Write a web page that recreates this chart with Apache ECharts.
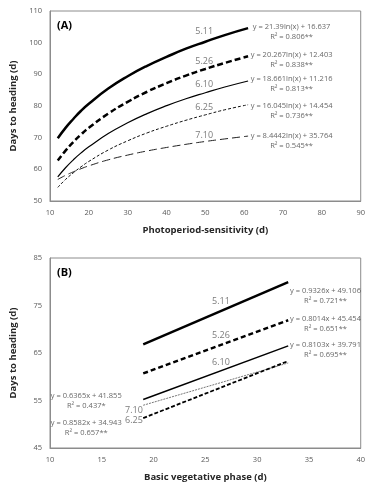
<!DOCTYPE html>
<html lang="en" style="height: 100%">
<head>
  <meta charset="utf-8">
  <title>Days to heading</title>
</head>
<body style="height: 100%; margin: 0;">
  <div id="container" style="width: 368px; height: 483px;"></div>
  <script type="text/javascript" src="https://cdn.jsdelivr.net/npm/echarts@6/dist/echarts.min.js"></script>
  <script type="text/javascript">
    // panel A: fitted log curves
    var photoX = [12, 14, 16, 18, 20, 25, 30, 35, 40, 45, 50, 55, 61];
    var a511 = [69.8, 73.1, 75.9, 78.5, 80.7, 85.5, 89.4, 92.7, 95.5, 98.1, 100.3, 102.4, 104.6];
    var a526 = [62.8, 65.9, 68.6, 71.0, 73.1, 77.6, 81.3, 84.5, 87.2, 89.6, 91.7, 93.6, 95.7];
    var a610 = [57.6, 60.5, 63.0, 65.2, 67.1, 71.3, 74.7, 77.6, 80.1, 82.3, 84.2, 86.0, 87.9];
    var a625 = [54.3, 56.8, 58.9, 60.8, 62.5, 66.1, 69.0, 71.5, 73.6, 75.5, 77.2, 78.8, 80.4];
    var a710 = [56.8, 58.1, 59.2, 60.2, 61.1, 63.0, 64.5, 65.8, 66.9, 67.9, 68.8, 69.6, 70.5];

    // panel B: straight fits, endpoints
    var bvpX = [19, 33];
    var b511 = [66.8, 79.9];
    var b526 = [60.7, 71.9];
    var b610 = [55.2, 66.5];
    var b710 = [54.0, 62.9];
    var b625 = [51.3, 63.3];

    var cultivars = ['5.11', '5.26', '6.10', '6.25', '7.10'];
    var eqA = [
      'y = 21.39ln(x) + 16.637\nR² = 0.806**',
      'y = 20.267ln(x) + 12.403\nR² = 0.838**',
      'y = 18.661ln(x) + 11.216\nR² = 0.813**',
      'y = 16.045ln(x) + 14.454\nR² = 0.736**',
      'y = 8.4442ln(x) + 35.764\nR² = 0.545**'
    ];
    var eqB = [
      'y = 0.9326x + 49.106\nR² = 0.721**',
      'y = 0.8014x + 45.454\nR² = 0.651**',
      'y = 0.8103x + 39.791\nR² = 0.695**',
      'y = 0.6365x + 41.855\nR² = 0.437*',
      'y = 0.8582x + 34.943\nR² = 0.657**'
    ];
    // where the text sits, in data units
    var nameA = [[49.7, 103.4], [49.7, 94.2], [49.7, 86.9], [49.7, 79.4], [49.7, 70.8]];
    var eqPosA = [[72.2, 103.4], [72.2, 94.7], [72.2, 86.9], [72.2, 78.4], [72.2, 68.9]];
    var nameB = [[26.5, 75.9], [26.5, 68.8], [26.5, 63.1], [18.1, 50.7], [18.1, 53.0]];
    var eqPosB = [[36.6, 77.0], [36.6, 71.1], [36.6, 65.6], [13.5, 54.9], [13.5, 49.2]];

    var FONT = 'Open Sans';

    function pairs(xs, ys) {
      return xs.map(function (x, i) { return [x, ys[i]]; });
    }

    function curve(idx, xs, ys, width, type, color, smooth) {
      return {
        type: 'line',
        xAxisIndex: idx,
        yAxisIndex: idx,
        data: pairs(xs, ys),
        smooth: smooth,
        showSymbol: false,
        silent: true,
        lineStyle: { width: width, type: type, color: color || '#000' }
      };
    }

    function textSeries(idx, pos, texts, size, color) {
      return {
        type: 'scatter',
        xAxisIndex: idx,
        yAxisIndex: idx,
        symbolSize: 0,
        silent: true,
        data: pos.map(function (p, i) {
          return { value: p, label: { formatter: texts[i] } };
        }),
        label: {
          show: true,
          position: 'inside',
          align: 'center',
          verticalAlign: 'middle',
          fontFamily: FONT,
          fontSize: size,
          lineHeight: size + 2.5,
          color: color
        }
      };
    }

    function xAx(idx, min, max, interval, name) {
      return {
        gridIndex: idx, type: 'value', min: min, max: max, interval: interval,
        name: name, nameLocation: 'middle', nameGap: 24,
        nameTextStyle: { fontFamily: FONT, fontSize: 9.5, fontWeight: 'bold', color: '#262626' },
        axisLine: { lineStyle: { color: '#8c8c8c' } },
        axisTick: { show: false },
        axisLabel: { fontFamily: FONT, fontSize: 7.5, color: '#595959', margin: 8 },
        splitLine: { show: false }
      };
    }

    function yAx(idx, min, max, interval) {
      return {
        gridIndex: idx, type: 'value', min: min, max: max, interval: interval,
        name: 'Days to heading (d)', nameLocation: 'middle', nameGap: 32, nameRotate: 90,
        nameTextStyle: { fontFamily: FONT, fontSize: 9.5, fontWeight: 'bold', color: '#262626' },
        axisLine: { show: true, lineStyle: { color: '#8c8c8c' } },
        axisTick: { show: false },
        axisLabel: { fontFamily: FONT, fontSize: 7.5, color: '#595959', margin: 8 },
        splitLine: { show: false }
      };
    }

    var chart = echarts.init(document.getElementById('container'), null, { renderer: 'canvas' });

    var option = {
      backgroundColor: '#fff',
      animation: false,
      grid: [
        { left: 48, right: 6, top: 11, height: 190, show: true, borderColor: '#8c8c8c', borderWidth: 1 },
        { left: 48, right: 6, top: 258, height: 190, show: true, borderColor: '#8c8c8c', borderWidth: 1 }
      ],
      xAxis: [
        xAx(0, 10, 90, 10, 'Photoperiod-sensitivity (d)'),
        xAx(1, 10, 40, 5, 'Basic vegetative phase (d)')
      ],
      yAxis: [
        yAx(0, 50, 110, 10),
        yAx(1, 45, 85, 10)
      ],
      graphic: [
        { type: 'text', left: 57, top: 20, style: { text: '(A)', font: 'bold 11px "Open Sans"', fill: '#000' } },
        { type: 'text', left: 57, top: 267, style: { text: '(B)', font: 'bold 11px "Open Sans"', fill: '#000' } }
      ],
      series: [
        curve(0, photoX, a511, 2.5, 'solid', '#000', true),
        curve(0, photoX, a526, 2.5, [6, 3], '#000', true),
        curve(0, photoX, a610, 1.2, 'solid', '#000', true),
        curve(0, photoX, a625, 1, [3, 2], '#111', true),
        curve(0, photoX, a710, 1, [8, 4], '#222', true),
        textSeries(0, nameA, cultivars, 9, '#595959'),
        textSeries(0, eqPosA, eqA, 7.5, '#404040'),

        curve(1, bvpX, b511, 2.5, 'solid', '#000', false),
        curve(1, bvpX, b526, 2.5, [5, 3], '#000', false),
        curve(1, bvpX, b610, 1.5, 'solid', '#000', false),
        curve(1, bvpX, b710, 1, [2, 1], '#777', false),
        curve(1, bvpX, b625, 1.8, [4, 2], '#000', false),
        textSeries(1, nameB, cultivars, 9, '#595959'),
        textSeries(1, eqPosB, eqB, 7.5, '#404040')
      ]
    };

    chart.setOption(option);
  </script>
</body>
</html>
